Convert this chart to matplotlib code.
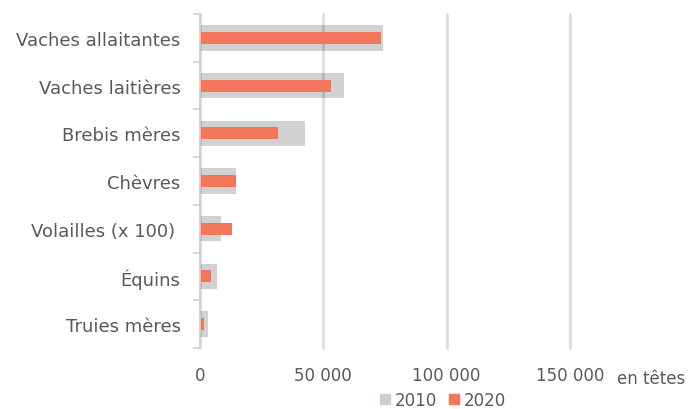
import matplotlib
matplotlib.use("Agg")
import matplotlib.pyplot as plt
import numpy as np
from matplotlib.patches import Patch

categories = ["Vaches allaitantes", "Vaches laitières", "Brebis mères", "Chèvres",
              "Volailles (x 100) ", "Équins", "Truies mères"]
values_2010 = [74300, 58200, 42700, 14600, 8400, 6800, 3300]
values_2020 = [73500, 53000, 31700, 14500, 12800, 4400, 1800]
xticks = [0, 50000, 100000, 150000]
xtick_labels = ["0", "50 000", "100 000", "150 000"]
series_labels = ["2010", "2020"]

plt.rcParams['font.family'] = ['DejaVu Sans']
txt = '#595959'
gray = '#d0d2d1'
orange = '#f4765a'
fs = 12

fig = plt.figure(figsize=(6.94, 4.10), dpi=100)
ax = fig.add_axes([200/694, 1-349/410, 370/694, 334/410])

y = np.arange(len(categories))
ax.barh(y, values_2010, height=0.53, color=gray, zorder=1)
ax.barh(y, values_2020, height=0.25, color=orange, zorder=3)

ax.set_xlim(0, 150000)
ax.set_ylim(len(categories) - 0.5, -0.5)
ax.set_xticks(xticks)
ax.set_xticklabels(xtick_labels, fontsize=fs, color=txt)
ax.tick_params(axis='x', length=0, pad=13)
ax.xaxis.grid(True, color='black', alpha=0.15, linewidth=1.8, zorder=2)
ax.set_axisbelow(False)
for gl in ax.get_xgridlines():
    gl.set_zorder(2)
    gl.set_clip_on(False)

ax.set_yticks(y)
ax.set_yticklabels(categories, fontsize=13, color=txt)
ax.set_yticks(np.arange(len(categories) + 1) - 0.5, minor=True)
ax.tick_params(axis='y', which='major', length=0, pad=14)
ax.tick_params(axis='y', which='minor', length=5, width=1.2, color='#d0d0d0')

for s in ['top', 'right', 'bottom']:
    ax.spines[s].set_visible(False)
ax.spines['left'].set_color('#d0d0d0')
ax.spines['left'].set_linewidth(1.2)
ax.spines['left'].set_zorder(4)

fig.text(617/694, 1-379/410, "en têtes", fontsize=fs, color=txt, va='center', ha='left')

handles = [Patch(color='#c9d1ce'), Patch(color=orange)]
fig.legend(handles, series_labels, loc='center', bbox_to_anchor=(443/694, 1-401/410),
           ncol=2, frameon=False, fontsize=fs, labelcolor=txt, handlelength=0.6,
           handleheight=0.6, handletextpad=0.3, columnspacing=0.7)

fig.savefig("out.png", dpi=100)
